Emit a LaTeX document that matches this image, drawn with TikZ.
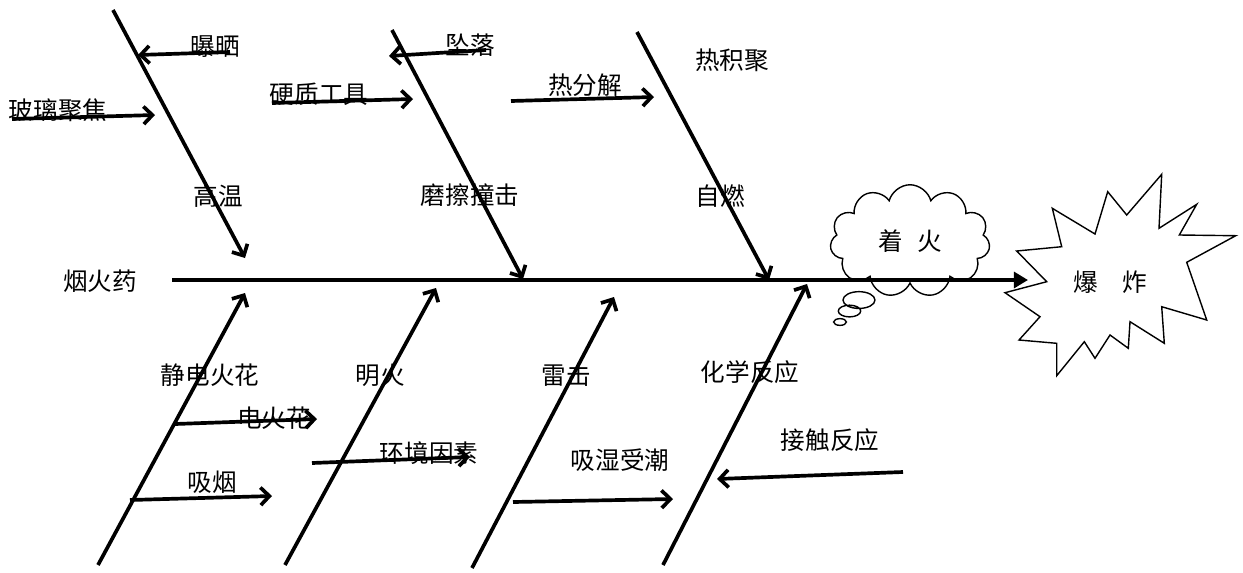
\documentclass[tikz,border=0pt]{standalone}
\usepackage{fontspec}
\setmainfont{Noto Sans CJK SC}
\usepackage{tikz}
\usetikzlibrary{arrows.meta,shapes.callouts}
\tikzset{
  hueso/.style={draw=black, line width=2.1pt, -{Straight Barb[length=5pt,width=10pt]}},
  espina/.style={draw=black, line width=2.6pt, -{Triangle[length=8pt,width=9pt]}},
  texto/.style={font=\fontsize{14}{16}\selectfont, inner sep=0pt}
}
\begin{document}
\begin{tikzpicture}[x=0.02cm,y=-0.02cm] % 1 px = 0.2 mm
\useasboundingbox (0,0) rectangle (1243,572);
% Espina principal
\node[texto] (polvora) at (100,281) {烟火药};
\coordinate (e0) at (172,280);
\coordinate (e1) at (1028,280);
\draw[espina] (e0) -- (e1);
% Rama superior: alta temperatura
\coordinate (a0) at (113,10);
\coordinate (a1) at (245,258);
\draw[hueso] (a0) -- (a1);
\node[texto] (gaowen) at (218,196) {高温};
\node[texto] (pushai) at (215,47) {曝晒};
\coordinate (pu0) at (230,52);
\coordinate (pu1) at (138,55);
\draw[hueso] (pu0) -- (pu1);
\node[texto] (boli) at (58,110) {玻璃聚焦};
\coordinate (bo0) at (12,119);
\coordinate (bo1) at (155,115);
\draw[hueso] (bo0) -- (bo1);
% Rama superior: friccion
\coordinate (b0) at (392,30);
\coordinate (b1) at (523,279);
\draw[hueso] (b0) -- (b1);
\node[texto] (moca) at (470,195) {磨擦撞击};
\node[texto] (zhuiluo) at (470,45) {坠落};
\coordinate (zh0) at (486,50);
\coordinate (zh1) at (389,56);
\draw[hueso] (zh0) -- (zh1);
\node[texto] (yingzhi) at (319,94) {硬质工具};
\coordinate (yi0) at (272,103);
\coordinate (yi1) at (413,99);
\draw[hueso] (yi0) -- (yi1);
% Rama superior: combustion espontanea
\coordinate (c0) at (637,32);
\coordinate (c1) at (769,280);
\draw[hueso] (c0) -- (c1);
\node[texto] (ziran) at (720,196) {自燃};
\node[texto] (rejiju) at (732,60) {热积聚};
\node[texto] (refenjie) at (585,85) {热分解};
\coordinate (re0) at (511,101);
\coordinate (re1) at (654,97);
\draw[hueso] (re0) -- (re1);
% Rama inferior: chispas
\coordinate (d0) at (98,565);
\coordinate (d1) at (245,293);
\draw[hueso] (d0) -- (d1);
\node[texto] (jingdian) at (210,375) {静电火花};
\node[texto] (dianhuo) at (274,418) {电火花};
\coordinate (di0) at (175,424);
\coordinate (di1) at (317,419);
\draw[hueso] (di0) -- (di1);
\node[texto] (xiyan) at (212,482) {吸烟};
\coordinate (xi0) at (130,500);
\coordinate (xi1) at (272,496);
\draw[hueso] (xi0) -- (xi1);
% Rama inferior: llama abierta
\coordinate (f0) at (285,565);
\coordinate (f1) at (436,288);
\draw[hueso] (f0) -- (f1);
\node[texto] (minghuo) at (380,375) {明火};
\node[texto] (huanjing) at (429,453) {环境因素};
\coordinate (hu0) at (312,463);
\coordinate (hu1) at (470,457);
\draw[hueso] (hu0) -- (hu1);
% Rama inferior: rayo
\coordinate (g0) at (472,568);
\coordinate (g1) at (614,297);
\draw[hueso] (g0) -- (g1);
\node[texto] (leiji) at (566,375) {雷击};
\node[texto] (xishi) at (620,460) {吸湿受潮};
\coordinate (xs0) at (513,502);
\coordinate (xs1) at (673,499);
\draw[hueso] (xs0) -- (xs1);
% Rama inferior: reaccion quimica
\coordinate (h0) at (663,565);
\coordinate (h1) at (807,284);
\draw[hueso] (h0) -- (h1);
\node[texto] (huaxue) at (750,372) {化学反应};
\node[texto] (jiechu) at (830,440) {接触反应};
\coordinate (ji0) at (903,472);
\coordinate (ji1) at (717,479);
\draw[hueso] (ji0) -- (ji1);
% Nube: ignicion
\node[cloud callout, draw=black, thick, cloud puffs=11, aspect=1.5,
  minimum width=3.2cm, minimum height=2.25cm, font=\fontsize{14}{16}\selectfont,
  callout pointer segments=3, callout pointer start size=.26 of callout,
  callout pointer end size=.08 of callout,
  callout absolute pointer={(840,322)}] (zhaohuo) at (910,241) {着\hspace{0.6em}火};
% Estrella: explosion
\node[texto] (baozha) at (1110,282) {爆\quad 炸};
\draw[thick, line join=miter] (1016.7,251) -- (1061.7,246.7) -- (1052.3,208.3) -- (1095,234)
  -- (1107.7,191.7) -- (1126.7,215) -- (1161.7,174.3) -- (1159,228.3) -- (1196.7,204.3)
  -- (1179.3,235) -- (1235.7,235.7) -- (1186.7,262.3) -- (1206.7,320) -- (1161.7,306.7)
  -- (1164.3,343.3) -- (1130,321.7) -- (1128.3,348.3) -- (1110,335) -- (1095,358.3)
  -- (1084.3,341.7) -- (1056.7,375.7) -- (1056.7,343.3) -- (1019,340) -- (1040,316.7)
  -- (1005,292.7) -- (1046.7,281.7) -- cycle;
\end{tikzpicture}
\end{document}
